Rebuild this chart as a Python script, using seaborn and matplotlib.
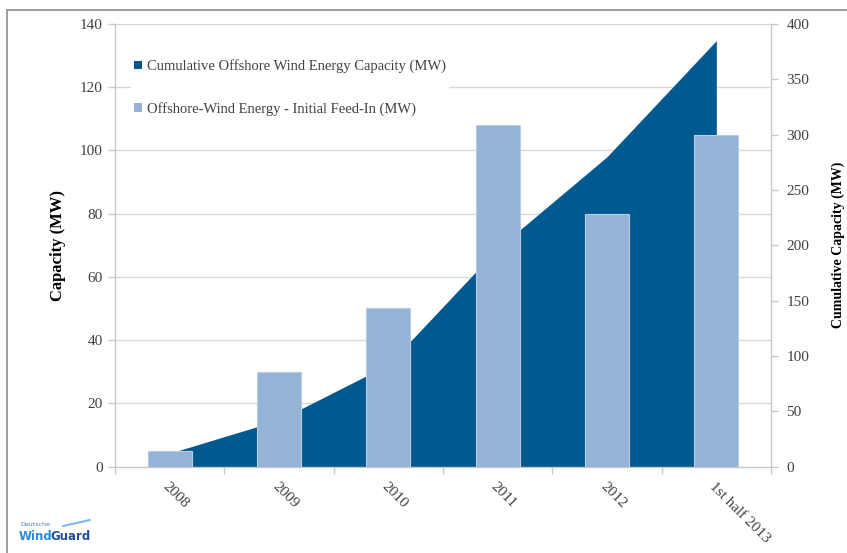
import matplotlib
matplotlib.use("Agg")
import matplotlib.pyplot as plt
import matplotlib.transforms as mtransforms
from matplotlib.lines import Line2D
from matplotlib.patches import Patch
import seaborn as sns
import numpy as np

# ---- data -------------------------------------------------------------
categories = ["2008", "2009", "2010", "2011", "2012", "1st half 2013"]
initial_feed_in = [5, 30, 50, 108, 80, 105]          # MW, left axis
cumulative_capacity = [12, 42, 92, 197, 280, 385]    # MW, right axis
left_ticks = [0, 20, 40, 60, 80, 100, 120, 140]
right_ticks = [0, 50, 100, 150, 200, 250, 300, 350, 400]

DARK = "#00598F"
LIGHT = "#95B3D7"
GRID = "#D9D9D9"
AXIS = "#C8C8C8"
TXT = "#404040"

sns.set_theme(style="white")
plt.rcParams["font.family"] = ["Liberation Serif", "DejaVu Serif"]

fig = plt.figure(figsize=(8.47, 5.53), dpi=100)
ax = fig.add_axes([115 / 847, 1 - 466.5 / 553, (771 - 115) / 847, (466.5 - 24) / 553])
ax2 = ax.twinx()

# right axis sits behind, holds grid + cumulative area
ax.set_zorder(2)
ax2.set_zorder(1)
ax.patch.set_visible(False)
ax2.patch.set_facecolor("white")

x = np.arange(len(categories))
grid_tr = mtransforms.blended_transform_factory(ax2.transAxes, ax.transData)
for v in left_ticks[1:]:
    ax2.plot([0, 1], [v, v], color=GRID, lw=1.0, transform=grid_tr, zorder=0)

ax2.fill_between(x, cumulative_capacity, 0, color=DARK, lw=0, zorder=1)

sns.barplot(x=categories, y=initial_feed_in, ax=ax, color=LIGHT, saturation=1,
            width=0.4, edgecolor="#B9CDE5", linewidth=0.8, zorder=3)

ax.set_xlim(-0.5, len(categories) - 0.5)
ax.set_ylim(0, 140)
ax2.set_ylim(0, 400)
ax.set_yticks(left_ticks)
ax2.set_yticks(right_ticks)

# spines
for s in ["top", "right"]:
    ax.spines[s].set_visible(False)
for s in ["top", "left", "bottom"]:
    ax2.spines[s].set_visible(False)
ax.spines["left"].set_color(AXIS)
ax.spines["bottom"].set_color(AXIS)
ax2.spines["right"].set_color(AXIS)
for s in [ax.spines["left"], ax.spines["bottom"], ax2.spines["right"]]:
    s.set_linewidth(1.0)

# ticks
ax.tick_params(axis="y", which="major", length=5, width=1, color=AXIS,
               labelsize=11, labelcolor=TXT, pad=4, left=True)
ax2.tick_params(axis="y", which="major", length=5, width=1, color=AXIS,
                labelsize=11, labelcolor=TXT, pad=6, right=True)
ax.set_xticks(x)
ax.set_xticks(np.arange(-0.5, len(categories), 1.0), minor=True)
ax.tick_params(axis="x", which="major", length=0, pad=10)
ax.tick_params(axis="x", which="minor", length=5, width=1, color=AXIS, bottom=True)
ax.set_xticklabels(categories, rotation=-45, ha="left", va="top",
                   rotation_mode="anchor", fontsize=11, color=TXT)
ax.set_xlabel("")

ax.set_ylabel("Capacity (MW)", fontsize=12, fontweight="bold", color="black", labelpad=10)
ax2.set_ylabel("Cumulative Capacity (MW)", fontsize=10, fontweight="bold",
               color="black", labelpad=16)

handles = [Patch(facecolor=DARK, edgecolor="none"),
           Patch(facecolor=LIGHT, edgecolor="none")]
labels = ["Cumulative Offshore Wind Energy Capacity (MW)",
          "Offshore-Wind Energy - Initial Feed-In (MW)"]
leg = ax.legend(handles, labels, loc="upper left", bbox_to_anchor=(0.014, 0.943),
                frameon=True, facecolor="white", edgecolor="white", framealpha=1,
                fontsize=10.5, handlelength=0.55, handleheight=0.55, handletextpad=0.3,
                labelspacing=1.95, borderpad=0.2, labelcolor=TXT)
leg.get_frame().set_linewidth(0)

# outer frame
fig.add_artist(Line2D([7 / 847, 7 / 847], [0, 1 - 10 / 553], color="#8C8C8C", lw=1.2,
                      transform=fig.transFigure))
fig.add_artist(Line2D([7 / 847, 1], [1 - 10 / 553, 1 - 10 / 553], color="#8C8C8C", lw=1.2,
                      transform=fig.transFigure))

# logo
fig.text(20 / 847, 1 - 524 / 553, "Deutsche", fontsize=4.5, color="#3A7DC9",
         family="DejaVu Sans", va="center")
fig.text(19 / 847, 1 - 536 / 553, "Wind", fontsize=8.5, color="#2E8BE0",
         family="DejaVu Sans", fontweight="bold", va="center")
fig.text(50.5 / 847, 1 - 536 / 553, "Guard", fontsize=8.5, color="#1F4E9A",
         family="DejaVu Sans", fontweight="bold", va="center")
fig.add_artist(Line2D([63 / 847, 90 / 847], [1 - 526 / 553, 1 - 520 / 553],
                      color="#7FB8EA", lw=1.5, transform=fig.transFigure))

fig.savefig("out.png", dpi=100)
